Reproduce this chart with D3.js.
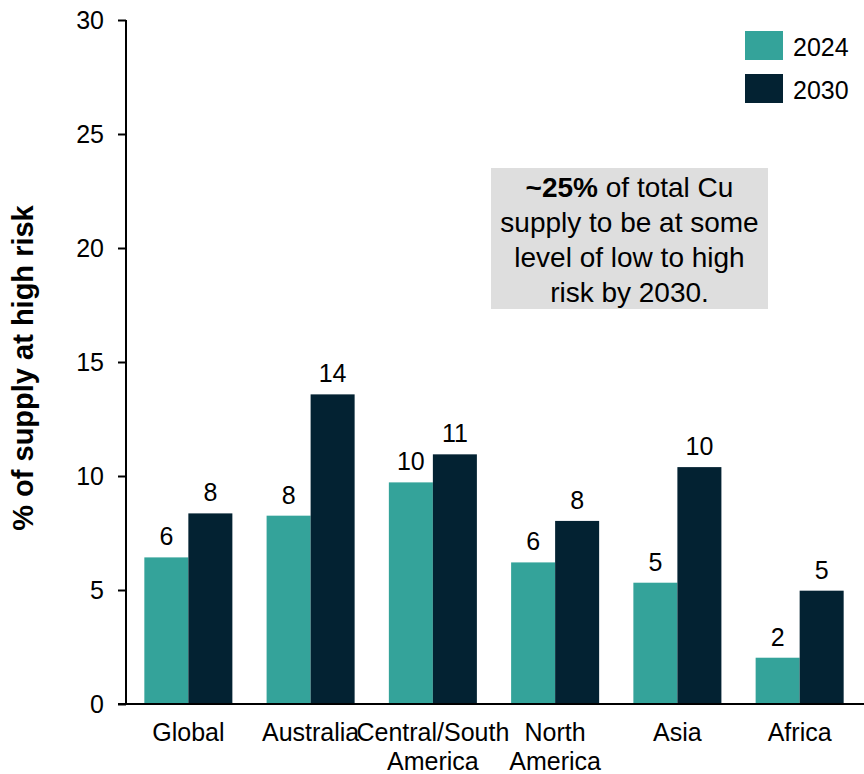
<!DOCTYPE html>
<html>
<head>
<meta charset="utf-8">
<script src="https://cdn.jsdelivr.net/npm/d3@7"></script>
<style>
  body { margin: 0; background: #fff; }
  text { font-family: "Liberation Sans", Arial, sans-serif; fill: #000; }
</style>
</head>
<body>
<div class="graph"></div>
<script>
// chart data
var categories = ["Global", "Australia", "Central/South America", "North America", "Asia", "Africa"];
var seriesNames = ["2024", "2030"];
var values2024 = [6.43, 8.26, 9.72, 6.21, 5.32, 2.03];
var values2030 = [8.36, 13.58, 10.95, 8.03, 10.39, 4.97];
var yTicks = [0, 5, 10, 15, 20, 25, 30];
var colors = ["#34a39a", "#032232"];
var noteLines = ["of total Cu", "supply to be at some", "level of low to high", "risk by 2030."];
var noteBold = "~25%";

var drawChart = function () {
  var width = 864, height = 774;
  var margin = { top: 20, right: 2, bottom: 70, left: 126 };

  var svg = d3.select(".graph").append("svg")
      .attr("width", width)
      .attr("height", height);

  // scales
  var x0 = d3.scaleBand().domain(categories)
      .range([margin.left, 862])
      .paddingInner(0.28).paddingOuter(0.15);
  var x1 = d3.scaleBand().domain(seriesNames).range([0, x0.bandwidth()]);
  var y = d3.scaleLinear().domain([0, 30]).range([height - margin.bottom, margin.top]);

  var rows = categories.map(function (c, i) {
    return { cat: c, vals: [
      { key: seriesNames[0], value: values2024[i] },
      { key: seriesNames[1], value: values2030[i] }
    ]};
  });

  // bars
  var groups = svg.append("g").selectAll("g").data(rows).enter().append("g")
      .attr("transform", function (d) { return "translate(" + x0(d.cat) + ",0)"; });

  groups.selectAll("rect").data(function (d) { return d.vals; }).enter().append("rect")
      .attr("x", function (d) { return x1(d.key); })
      .attr("y", function (d) { return y(d.value); })
      .attr("width", x1.bandwidth())
      .attr("height", function (d) { return y(0) - y(d.value); })
      .attr("fill", function (d, i) { return colors[i]; });

  // value labels
  groups.selectAll("text.val").data(function (d) { return d.vals; }).enter().append("text")
      .attr("class", "val")
      .attr("x", function (d) { return x1(d.key) + x1.bandwidth() / 2; })
      .attr("y", function (d) { return y(d.value) - 12; })
      .attr("text-anchor", "middle")
      .style("font-size", "25px")
      .text(function (d) { return d3.format(".0f")(d.value); });

  // y axis
  var yAxis = svg.append("g")
      .attr("transform", "translate(" + margin.left + ",0)")
      .call(d3.axisLeft(y).tickValues(yTicks).tickSize(8).tickPadding(14));
  yAxis.selectAll("path, line").attr("stroke", "#000").attr("stroke-width", 2);
  yAxis.select(".domain").attr("d", "M0," + y(30) + "V" + y(0));
  yAxis.selectAll("text").style("font-size", "25px").attr("fill", "#000");

  // x axis
  var xAxis = svg.append("g")
      .attr("transform", "translate(0," + y(0) + ")")
      .call(d3.axisBottom(x0).tickSize(0).tickPadding(0));
  xAxis.select(".domain").attr("d", "M" + (margin.left - 8) + ",0H" + width)
      .attr("stroke", "#000").attr("stroke-width", 2);
  xAxis.selectAll(".tick text").each(function (d) {
    var t = d3.select(this).text(null).attr("y", 0).attr("dy", null)
        .style("font-size", "25px").attr("fill", "#000");
    d.split(" ").forEach(function (w, i) {
      t.append("tspan").attr("x", 0).attr("y", 37 + i * 29).text(w);
    });
  });

  // y axis title
  svg.append("text")
      .attr("transform", "translate(33," + ((y(0) + y(30)) / 2 + 6) + ") rotate(-90)")
      .attr("text-anchor", "middle")
      .style("font-size", "29px")
      .style("font-weight", "bold")
      .text("% of supply at high risk");

  // legend
  var legend = svg.append("g").selectAll("g").data(seriesNames).enter().append("g")
      .attr("transform", function (d, i) { return "translate(745," + (31 + i * 43) + ")"; });
  legend.append("rect").attr("width", 38).attr("height", 29)
      .attr("fill", function (d, i) { return colors[i]; });
  legend.append("text").attr("x", 48).attr("y", 25)
      .style("font-size", "25px").text(function (d) { return d; });

  // annotation box
  var note = svg.append("g");
  note.append("rect").attr("x", 491).attr("y", 168).attr("width", 277).attr("height", 141)
      .attr("fill", "#dedede");
  var nt = note.append("text").attr("text-anchor", "middle").style("font-size", "28px");
  noteLines.forEach(function (line, i) {
    var ts = nt.append("tspan").attr("x", 629.5).attr("y", 197 + i * 35);
    if (i === 0) {
      ts.append("tspan").style("font-weight", "bold").text(noteBold);
      ts.append("tspan").text(" " + line);
    } else {
      ts.text(line);
    }
  });
};

drawChart();
</script>
</body>
</html>
